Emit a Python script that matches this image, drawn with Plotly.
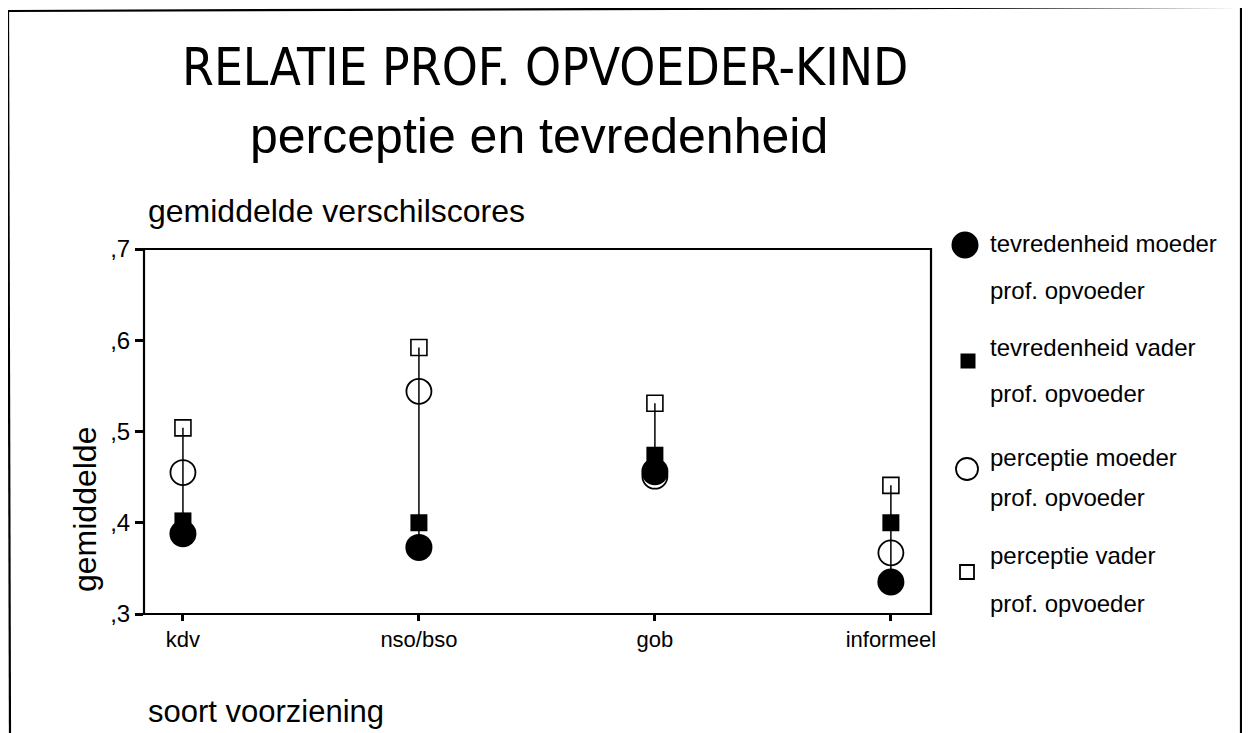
import plotly.graph_objects as go

categories = ["kdv", "nso/bso", "gob", "informeel"]
tevredenheid_moeder = [0.388, 0.373, 0.456, 0.335]
tevredenheid_vader = [0.402, 0.400, 0.474, 0.400]
perceptie_moeder = [0.455, 0.544, 0.451, 0.367]
perceptie_vader = [0.504, 0.592, 0.531, 0.441]
y_tickvals = [0.3, 0.4, 0.5, 0.6, 0.7]
y_ticktext = [",3", ",4", ",5", ",6", ",7"]
legend_labels = ["tevredenheid moeder", "tevredenheid vader", "perceptie moeder", "perceptie vader"]

# page body has an 8px margin; work in window pixels and convert
OFF = 8
W, H = 1250 - OFF, 733 - OFF
PLOT_L, PLOT_R, PLOT_T, PLOT_B = 144, 931, 249, 614  # window pixels
L = PLOT_L - OFF
T = PLOT_T - OFF
R = W - (PLOT_R - OFF)
B = H - (PLOT_B - OFF)
PW, PH = PLOT_R - PLOT_L, PLOT_B - PLOT_T

def px(x):
    return (x - PLOT_L) / PW

def py(y):
    return (PLOT_B - y) / PH

FONT = "Liberation Sans, Arial, sans-serif"
TITLE_FONT = "Liberation Sans Narrow, DejaVu Sans Condensed, Arial Narrow, sans-serif"

xs = list(range(len(categories)))
series = [tevredenheid_moeder, tevredenheid_vader, perceptie_moeder, perceptie_vader]

fig = go.Figure()

# high-low connecting lines
lx, ly = [], []
for i in xs:
    vals = [s[i] for s in series]
    lx += [i, i, None]
    ly += [min(vals), max(vals), None]
fig.add_trace(go.Scatter(x=lx, y=ly, mode="lines", line=dict(color="black", width=1.5),
                         hoverinfo="skip", showlegend=False))

styles = [
    dict(symbol="square-open", size=16, color="black", line=dict(width=1.6, color="black")),
    dict(symbol="circle-open", size=25, color="black", line=dict(width=1.8, color="black")),
    dict(symbol="circle", size=27, color="black", line=dict(width=0)),
    dict(symbol="square", size=17, color="black", line=dict(width=0)),
]
order = [3, 2, 0, 1]
for st, idx in zip(styles, order):
    fig.add_trace(go.Scatter(x=xs, y=series[idx], mode="markers", marker=st,
                             name=legend_labels[idx], showlegend=False))

shapes = []
# plot frame
shapes.append(dict(type="rect", xref="paper", yref="paper", x0=0, x1=1, y0=0, y1=1,
                   line=dict(color="black", width=2.2), layer="above"))
# page border (top, left, right)
shapes.append(dict(type="line", xref="paper", yref="paper", x0=px(8), x1=px(1241), y0=py(11), y1=py(7),
                   line=dict(color="black", width=2.2)))
shapes.append(dict(type="line", xref="paper", yref="paper", x0=px(8), x1=px(10), y0=py(11), y1=py(740),
                   line=dict(color="black", width=2.2)))
shapes.append(dict(type="line", xref="paper", yref="paper", x0=px(1241), x1=px(1241), y0=py(7), y1=py(740),
                   line=dict(color="black", width=2.2)))

# legend markers
leg_marks = [
    ("circle", 965, 245, 27, True),
    ("rect", 968, 361, 15, True),
    ("circle", 967, 469, 22, False),
    ("rect", 967, 572, 14, False),
]
for kind, cx, cy, sz, filled in leg_marks:
    h = sz / 2
    shapes.append(dict(type=kind, xref="paper", yref="paper", xsizemode="pixel", ysizemode="pixel",
                       xanchor=px(cx), yanchor=py(cy), x0=-h, x1=h, y0=-h, y1=h,
                       fillcolor="black" if filled else "rgba(0,0,0,0)",
                       line=dict(color="black", width=0 if filled else 1.8)))

annotations = []
def txt(text, x, y, size, xanchor="left", family=FONT, angle=0):
    annotations.append(dict(text=text, xref="paper", yref="paper", x=px(x), y=py(y),
                            xanchor=xanchor, yanchor="middle", showarrow=False, textangle=angle,
                            font=dict(family=family, size=size, color="black")))

txt("RELATIE PROF. OPVOEDER-KIND", 545, 68, 51, xanchor="center", family=TITLE_FONT)
txt("perceptie en tevredenheid", 539, 136, 50, xanchor="center")
txt("gemiddelde verschilscores", 146, 211, 32)
txt("gemiddelde", 85, 510, 32, xanchor="center", angle=-90)
txt("soort voorziening", 146, 711, 31)

leg_text_y = [(244, 290), (347, 393), (457, 497), (555, 603)]
for lab, (y1, y2) in zip(legend_labels, leg_text_y):
    txt(lab, 988, y1, 24)
    txt("prof. opvoeder", 988, y2, 24)

fig.update_layout(
    width=W, height=H,
    margin=dict(l=L, r=R, t=T, b=B, pad=0),
    paper_bgcolor="white", plot_bgcolor="white",
    showlegend=False,
    shapes=shapes, annotations=annotations,
    xaxis=dict(range=[-0.165, 3.17], tickvals=xs, ticktext=categories, showgrid=False, zeroline=False,
               ticks="outside", ticklen=6, tickwidth=3, tickcolor="black",
               tickfont=dict(family=FONT, size=22, color="black"), showline=False, fixedrange=True),
    yaxis=dict(range=[0.3, 0.7], tickvals=y_tickvals, ticktext=y_ticktext, showgrid=False, zeroline=False,
               ticks="outside", ticklen=8, tickwidth=3, tickcolor="black",
               tickfont=dict(family=FONT, size=24, color="black"), showline=False, fixedrange=True),
)

fig.write_html("out.html")
